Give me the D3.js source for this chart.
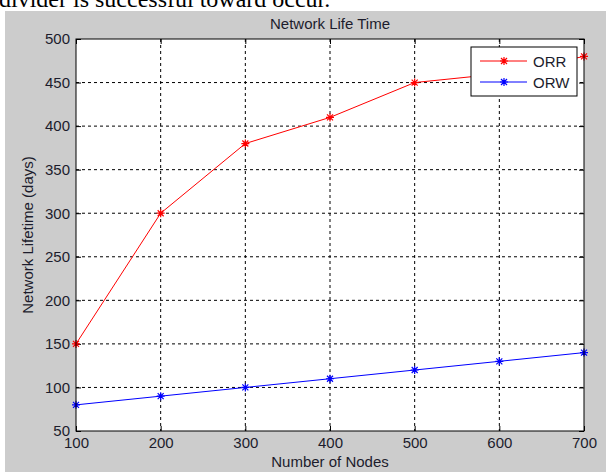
<!DOCTYPE html>
<html>
<head>
<meta charset="utf-8">
<script src="https://cdn.jsdelivr.net/npm/d3@7"></script>
<style>
  html, body { margin: 0; padding: 0; background: #fff; }
  svg { display: block; }
</style>
</head>
<body>
<div id="chart"></div>
<script>
const nodes = [100, 200, 300, 400, 500, 600, 700];
const orrValues = [150, 300, 380, 410, 450, 460, 480];
const orwValues = [80, 90, 100, 110, 120, 130, 140];
const xTicks = [100, 200, 300, 400, 500, 600, 700];
const yTicks = [50, 100, 150, 200, 250, 300, 350, 400, 450, 500];
const seriesNames = ["ORR", "ORW"];
const seriesColors = ["#ff0000", "#0000ff"];

const W = 606, H = 472;
const margin = { left: 76, right: 22, top: 39, bottom: 41 };
const width = W - margin.left - margin.right;
const height = H - margin.top - margin.bottom;
const font = "'Liberation Sans', Arial, Helvetica, sans-serif";

const svg = d3.select("#chart").append("svg")
    .attr("width", W)
    .attr("height", H);

// caption text cut off from the page above the figure
svg.append("text")
    .attr("x", -1)
    .attr("y", 7)
    .style("font-family", "'Liberation Serif', 'Times New Roman', serif")
    .style("font-size", "24px")
    .attr("fill", "#000")
    .text("divider is successful toward occur.");

// figure background
svg.append("rect")
    .attr("x", 5)
    .attr("y", 11)
    .attr("width", W - 5)
    .attr("height", H - 11)
    .attr("fill", "#cccccc");

const g = svg.append("g")
    .attr("transform", `translate(${margin.left},${margin.top})`);

const x = d3.scaleLinear().domain([100, 700]).range([0, width]);
const y = d3.scaleLinear().domain([50, 500]).range([height, 0]);

g.append("rect")
    .attr("width", width)
    .attr("height", height)
    .attr("fill", "#fff");

// Grid
g.append("g")
    .selectAll("line")
    .data(xTicks.slice(1, -1))
    .enter().append("line")
    .attr("x1", d => x(d)).attr("x2", d => x(d))
    .attr("y1", 0).attr("y2", height)
    .attr("stroke", "#000")
    .attr("stroke-dasharray", "3,3");

g.append("g")
    .selectAll("line")
    .data(yTicks.slice(1, -1))
    .enter().append("line")
    .attr("y1", d => y(d)).attr("y2", d => y(d))
    .attr("x1", 0).attr("x2", width)
    .attr("stroke", "#000")
    .attr("stroke-dasharray", "3,3");

// Axes (ticks pointing inward)
const xAxis = g.append("g")
    .attr("transform", `translate(0,${height})`)
    .call(d3.axisBottom(x).tickValues(xTicks).tickSizeInner(-5).tickSizeOuter(0).tickPadding(6));

const yAxis = g.append("g")
    .call(d3.axisLeft(y).tickValues(yTicks).tickSizeInner(-5).tickSizeOuter(0).tickPadding(6));

g.append("g")
    .call(d3.axisTop(x).tickValues(xTicks).tickSizeInner(-5).tickSizeOuter(0).tickFormat(""));

g.append("g")
    .attr("transform", `translate(${width},0)`)
    .call(d3.axisRight(y).tickValues(yTicks).tickSizeInner(-5).tickSizeOuter(0).tickFormat(""));

g.selectAll(".domain").remove();
g.selectAll(".tick line").attr("stroke", "#000");
g.selectAll(".tick text")
    .style("font-family", font)
    .style("font-size", "15px")
    .attr("fill", "#1c1c2c");

// Asterisk marker
const asterisk = "M-4,0L4,0M0,-4L0,4M-3,-3L3,3M-3,3L3,-3";

const series = [orrValues, orwValues];
series.forEach((vals, i) => {
    const pts = nodes.map((n, j) => [n, vals[j]]);
    g.append("path")
        .datum(pts)
        .attr("fill", "none")
        .attr("stroke", seriesColors[i])
        .attr("stroke-width", 1)
        .attr("d", d3.line().x(d => x(d[0])).y(d => y(d[1])));

    g.selectAll(null)
        .data(pts)
        .enter().append("path")
        .attr("transform", d => `translate(${x(d[0])},${y(d[1])})`)
        .attr("d", asterisk)
        .attr("stroke", seriesColors[i])
        .attr("stroke-width", 1.2)
        .attr("fill", "none");
});

// Axes box
g.append("rect")
    .attr("width", width)
    .attr("height", height)
    .attr("fill", "none")
    .attr("stroke", "#000")
    .attr("stroke-width", 1);

// Title and labels
g.append("text")
    .attr("x", width / 2)
    .attr("y", -10.5)
    .attr("text-anchor", "middle")
    .style("font-family", font)
    .style("font-size", "15px")
    .attr("fill", "#1c1c2c")
    .text("Network Life Time");

g.append("text")
    .attr("x", width / 2)
    .attr("y", height + 35.5)
    .attr("text-anchor", "middle")
    .style("font-family", font)
    .style("font-size", "15px")
    .attr("fill", "#1c1c2c")
    .text("Number of Nodes");

g.append("text")
    .attr("transform", `translate(${-43},${height / 2}) rotate(-90)`)
    .attr("text-anchor", "middle")
    .style("font-family", font)
    .style("font-size", "15px")
    .attr("fill", "#1c1c2c")
    .text("Network Lifetime (days)");

// Legend
const legend = svg.append("g")
    .attr("transform", "translate(471,47)");

legend.append("rect")
    .attr("width", 106)
    .attr("height", 49)
    .attr("fill", "#fff")
    .attr("stroke", "#000")
    .attr("stroke-width", 1);

seriesNames.forEach((name, i) => {
    const ly = 14 + i * 21;
    legend.append("line")
        .attr("x1", 9).attr("x2", 56)
        .attr("y1", ly).attr("y2", ly)
        .attr("stroke", seriesColors[i])
        .attr("stroke-width", 1);
    legend.append("path")
        .attr("transform", `translate(33,${ly})`)
        .attr("d", asterisk)
        .attr("stroke", seriesColors[i])
        .attr("stroke-width", 1.2)
        .attr("fill", "none");
    legend.append("text")
        .attr("x", 62)
        .attr("y", ly + 5.5)
        .style("font-family", font)
        .style("font-size", "15px")
        .attr("fill", "#1c1c2c")
        .text(name);
});
</script>
</body>
</html>
